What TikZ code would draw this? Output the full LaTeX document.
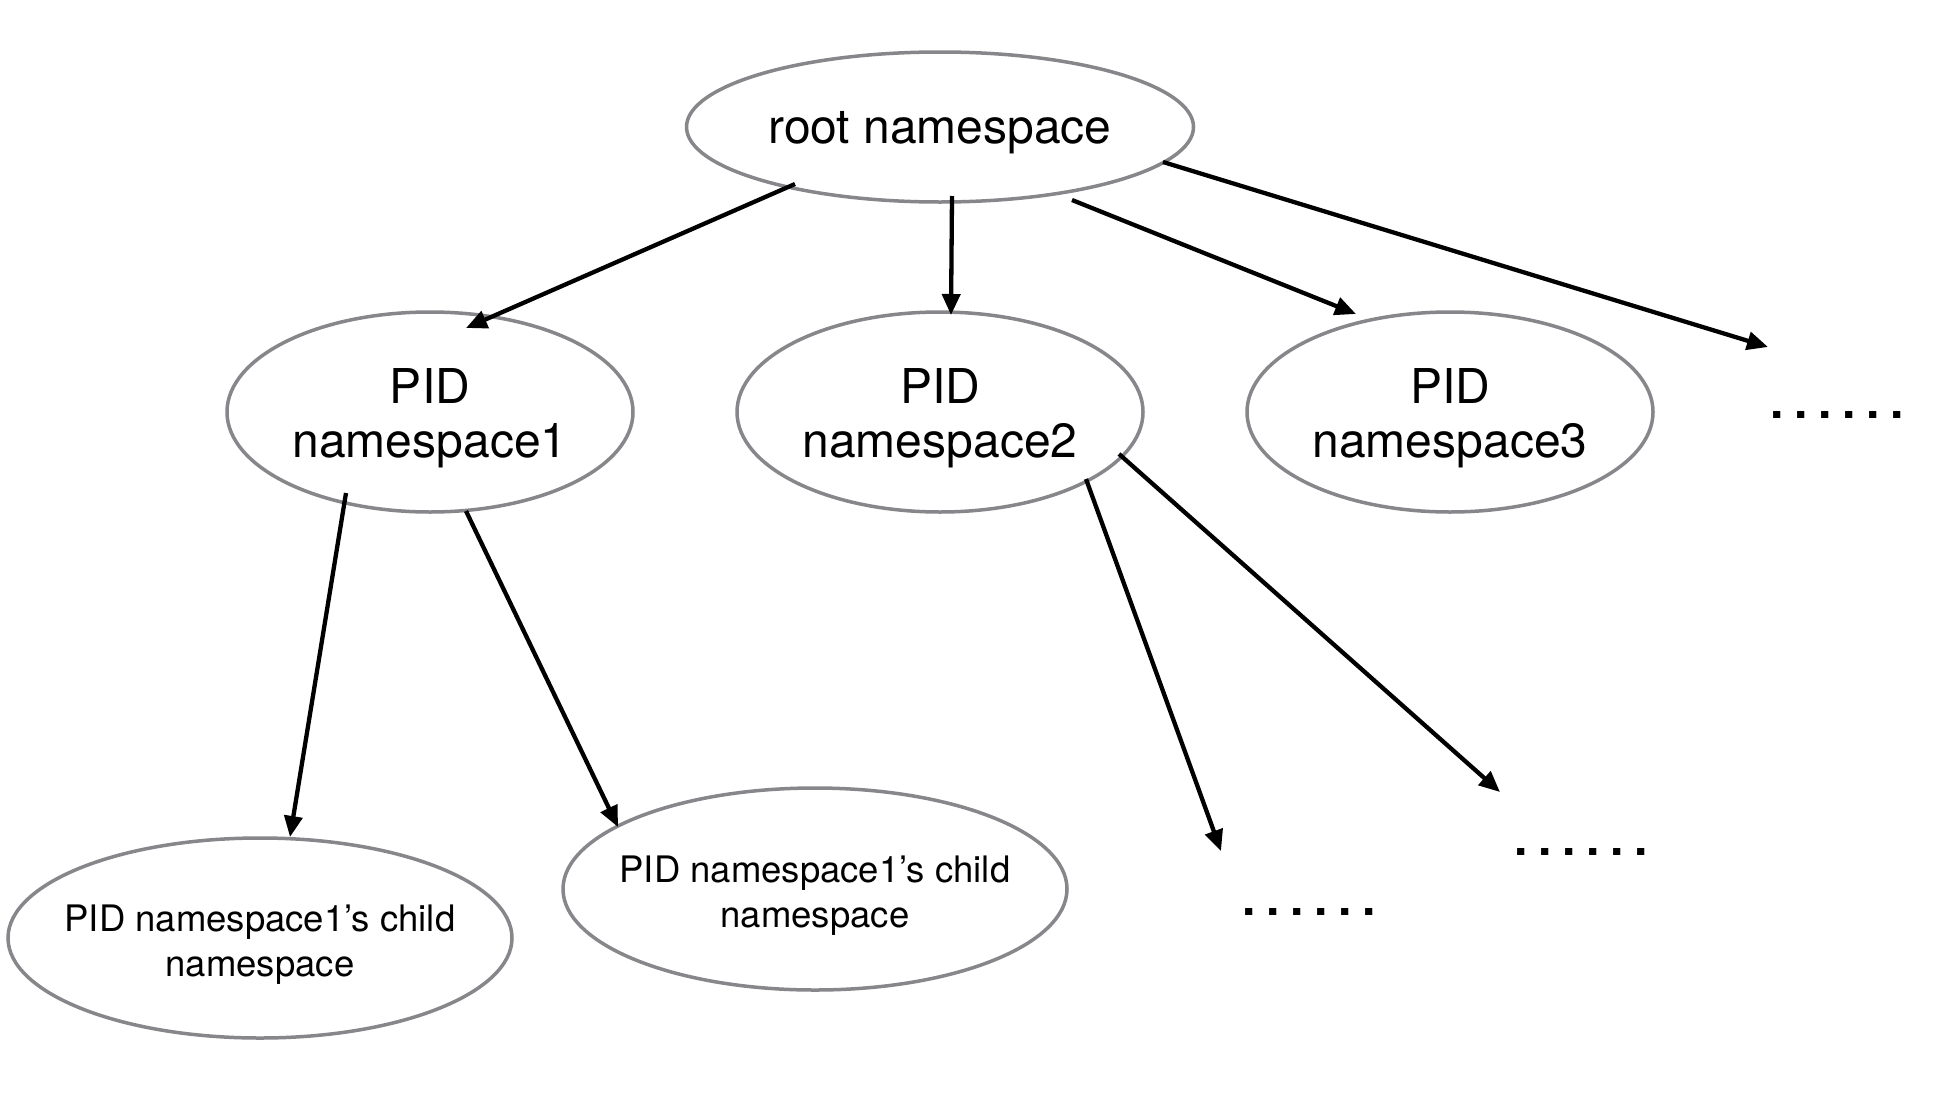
\documentclass[tikz,border=0pt]{standalone}
\usepackage{fontspec}
\setmainfont{TeX Gyre Heros}
\usetikzlibrary{shapes.geometric,arrows.meta,calc}
\definecolor{ringgray}{RGB}{135,135,139}
\newcommand\onedot{\makebox[24pt]{.}}
\newcommand\sixdots{\onedot\onedot\onedot\onedot\onedot\onedot}
\newcommand\lbl[2]{\raisebox{#1}[0pt][0pt]{\makebox[0pt]{\begin{tabular}[t]{@{}c@{}}#2\end{tabular}}}}
\begin{document}
\begin{tikzpicture}[x=1pt,y=-1pt,
  ring/.style={ellipse,draw=ringgray,line width=3.5pt,inner sep=0pt},
  bigtext/.style={font=\fontsize{48}{54}\selectfont},
  smalltext/.style={font=\fontsize{36.5}{45}\selectfont},
  link/.style={line width=4.3pt,-{Triangle[length=21pt,width=18pt]}},
  dotrow/.style={font=\fontsize{48}{54}\selectfont\bfseries,inner sep=0pt}
]
\fill[white] (0,0) rectangle (1940,1100);
\useasboundingbox (0,0) rectangle (1940,1100);

\node[ring,bigtext,minimum width=507pt,minimum height=150pt] (root) at (940,127) {\lbl{-16.5pt}{root namespace}};
\node[ring,bigtext,minimum width=406pt,minimum height=200pt] (ns1) at (430,412) {\lbl{8.7pt}{PID\\namespace1}};
\node[ring,bigtext,minimum width=406pt,minimum height=200pt] (ns2) at (940,412) {\lbl{8.7pt}{PID\\namespace2}};
\node[ring,bigtext,minimum width=406pt,minimum height=200pt] (ns3) at (1450,412) {\lbl{8.7pt}{PID\\namespace3}};
\node[ring,smalltext,minimum width=504pt,minimum height=200pt] (child1) at (260,938) {\lbl{6.5pt}{PID namespace1’s child\\namespace}};
\node[ring,smalltext,minimum width=504pt,minimum height=202pt] (child2) at (815,889) {\lbl{6.5pt}{PID namespace1’s child\\namespace}};

\node[dotrow] (d1) at (1837,415) {\sixdots};
\node[dotrow] (d2) at (1309,912) {\sixdots};
\node[dotrow] (d3) at (1581,852) {\sixdots};

\draw[link] ($(root)+(-145,57)$) -- ($(ns1)+(36,-84)$);
\draw[link] ($(root)+(12,69)$) -- ($(ns2)+(11,-97)$);
\draw[link] ($(root)+(132,73)$) -- ($(ns3)+(-94,-98)$);
\draw[link] ($(root)+(223,35)$) -- ($(d1)+(-69,-68)$);
\draw[link] ($(ns1)+(-84,81)$) -- ($(child1)+(30,-101)$);
\draw[link] ($(ns1)+(36,99)$) -- ($(child2)+(-197,-62)$);
\draw[link] ($(ns2)+(146,67)$) -- ($(d2)+(-88,-61)$);
\draw[link] ($(ns2)+(179,42)$) -- ($(d3)+(-81,-60)$);
\end{tikzpicture}
\end{document}
